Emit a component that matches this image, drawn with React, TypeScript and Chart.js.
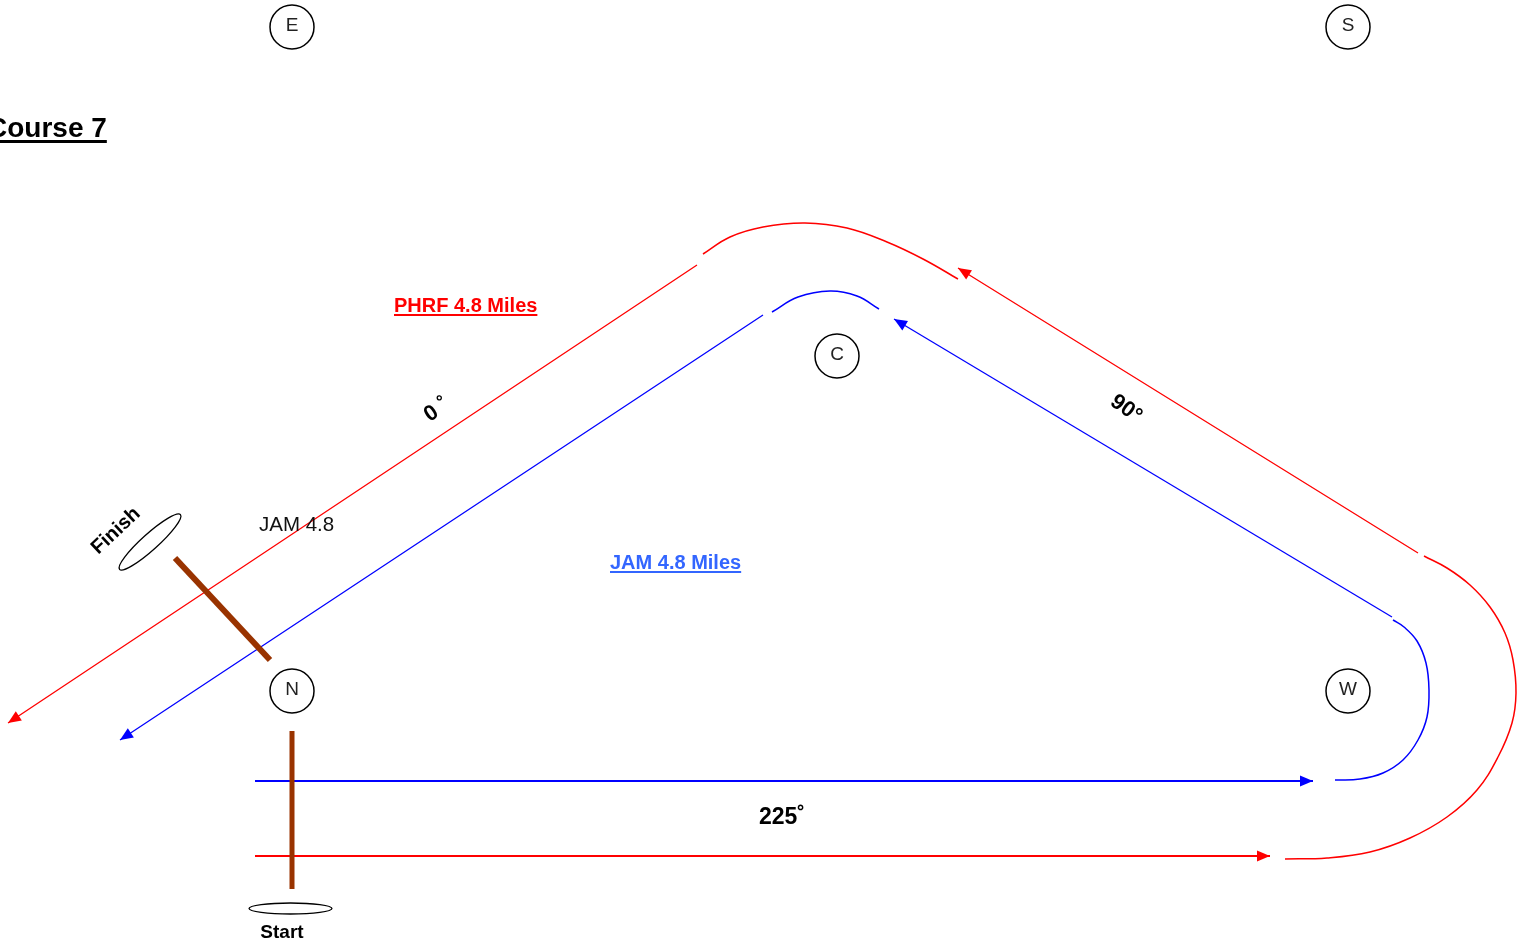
import React, { useEffect, useRef } from "react";
import { Chart, registerables } from "chart.js";

Chart.register(...registerables);

type P = { x: number; y: number };

// Course marks (buoys)
const markLabels = ["E", "S", "C", "N", "W"];
const markX = [292, 1348, 837, 292, 1348];
const markY = [27, 27, 356, 691, 691];

// PHRF course (red) path legs
const phrfStartLeg: P[] = [{ x: 255, y: 856 }, { x: 1270, y: 856 }];
const phrfWestRound: P[] = [
  { x: 1285, y: 859 }, { x: 1327, y: 858 }, { x: 1370, y: 852 }, { x: 1410, y: 838 },
  { x: 1447, y: 817 }, { x: 1477, y: 790 }, { x: 1498, y: 757 }, { x: 1512, y: 723 },
  { x: 1516, y: 693 }, { x: 1513, y: 660 }, { x: 1505, y: 633 }, { x: 1490, y: 607 },
  { x: 1470, y: 585 }, { x: 1447, y: 568 }, { x: 1424, y: 556 },
];
const phrfUpLeg: P[] = [{ x: 1418, y: 553 }, { x: 958, y: 268 }];
const phrfTopRound: P[] = [
  { x: 703, y: 254 }, { x: 730, y: 237 }, { x: 763, y: 227 }, { x: 805, y: 223 },
  { x: 847, y: 228 }, { x: 887, y: 242 }, { x: 923, y: 259 }, { x: 958, y: 279 },
];
const phrfFinishLeg: P[] = [{ x: 697, y: 265 }, { x: 8, y: 723 }];

// JAM course (blue) path legs
const jamStartLeg: P[] = [{ x: 255, y: 781 }, { x: 1313, y: 781 }];
const jamWestRound: P[] = [
  { x: 1335, y: 780 }, { x: 1360, y: 779 }, { x: 1383, y: 773 }, { x: 1403, y: 760 },
  { x: 1418, y: 740 }, { x: 1427, y: 717 }, { x: 1429, y: 690 }, { x: 1426, y: 663 },
  { x: 1417, y: 641 }, { x: 1404, y: 627 }, { x: 1393, y: 620 },
];
const jamUpLeg: P[] = [{ x: 1392, y: 617 }, { x: 894, y: 319 }];
const jamTopRound: P[] = [
  { x: 772, y: 312 }, { x: 798, y: 297 }, { x: 830, y: 291 }, { x: 857, y: 296 }, { x: 879, y: 309 },
];
const jamFinishLeg: P[] = [{ x: 763, y: 315 }, { x: 120, y: 740 }];

// Start / finish lines
const finishLine: P[] = [{ x: 175, y: 558 }, { x: 270, y: 660 }];
const startLine: P[] = [{ x: 292, y: 731 }, { x: 292, y: 889 }];

// Ellipse markers (start / finish pins): center, radii, tilt
const ellipseCx = [150, 290.5];
const ellipseCy = [542, 908.5];
const ellipseRx = [41, 41.5];
const ellipseRy = [8, 5.5];
const ellipseTilt = [-42, 0];

// Text labels
const labelText = ["Course 7", "PHRF 4.8 Miles", "JAM 4.8 Miles", "JAM 4.8", "0 ˚", "90°", "225˚", "Finish", "Start"];
const labelX = [-13, 394, 610, 259, 437, 1126, 782, 116, 282];
const labelY = [137, 312, 569, 531, 410, 409, 818, 531, 933];

const RED = "#ff0000";
const BLUE = "#0000ff";
const BROWN = "#993300";

export default function App() {
  const ref = useRef<HTMLCanvasElement | null>(null);

  useEffect(() => {
    document.body.style.margin = "0";
    document.body.style.overflow = "hidden";
    const canvas = ref.current;
    if (!canvas) return;

    const line = (data: P[], color: string, width: number, arrow = false, order = 5) => ({
      type: "scatter" as const,
      data,
      showLine: true,
      borderColor: color,
      backgroundColor: color,
      borderWidth: width,
      pointRadius: 0,
      tension: 0.4,
      fill: false,
      clip: false as any,
      arrow,
      order,
    });

    const arrowPlugin = {
      id: "arrowHeads",
      afterDatasetsDraw(chart: any) {
        const ctx = chart.ctx;
        chart.data.datasets.forEach((ds: any, i: number) => {
          if (!ds.arrow) return;
          const pts = chart.getDatasetMeta(i).data;
          const n = pts.length;
          const a = pts[n - 2], b = pts[n - 1];
          const ang = Math.atan2(b.y - a.y, b.x - a.x);
          const L = 13, W = 5.5;
          ctx.save();
          ctx.translate(b.x, b.y);
          ctx.rotate(ang);
          ctx.fillStyle = ds.borderColor;
          ctx.beginPath();
          ctx.moveTo(0, 0);
          ctx.lineTo(-L, -W);
          ctx.lineTo(-L, W);
          ctx.closePath();
          ctx.fill();
          ctx.restore();
        });
      },
    };

    const decorPlugin = {
      id: "decor",
      afterDraw(chart: any) {
        const ctx = chart.ctx;
        const xs = chart.scales.x, ys = chart.scales.y;
        const px = (v: number) => xs.getPixelForValue(v);
        const py = (v: number) => ys.getPixelForValue(v);
        const sx = Math.abs(px(1) - px(0));
        const sy = Math.abs(py(1) - py(0));

        // ellipses
        ctx.save();
        ctx.strokeStyle = "#000";
        ctx.lineWidth = 1.3;
        ellipseCx.forEach((cx, i) => {
          ctx.beginPath();
          ctx.ellipse(px(cx), py(ellipseCy[i]), ellipseRx[i] * sx, ellipseRy[i] * sy, (ellipseTilt[i] * Math.PI) / 180, 0, Math.PI * 2);
          ctx.stroke();
        });
        ctx.restore();

        // mark letters
        ctx.save();
        ctx.fillStyle = "#222";
        ctx.font = "19px Arial, 'Liberation Sans', sans-serif";
        ctx.textAlign = "center";
        ctx.textBaseline = "middle";
        markLabels.forEach((t, i) => ctx.fillText(t, px(markX[i]), py(markY[i]) - 1));
        ctx.restore();

        const FONT = "'Liberation Sans', Arial, sans-serif";
        const drawUnderlined = (t: string, x: number, y: number, font: string, color: string, uOff: number, uW: number) => {
          ctx.save();
          ctx.font = font;
          ctx.fillStyle = color;
          ctx.textAlign = "left";
          ctx.textBaseline = "alphabetic";
          ctx.fillText(t, x, y);
          const w = ctx.measureText(t).width;
          ctx.fillRect(x, y + uOff, w, uW);
          ctx.restore();
        };
        const drawRot = (t: string, x: number, y: number, font: string, deg: number) => {
          ctx.save();
          ctx.font = font;
          ctx.fillStyle = "#000";
          ctx.textAlign = "center";
          ctx.textBaseline = "middle";
          ctx.translate(x, y);
          ctx.rotate((deg * Math.PI) / 180);
          ctx.fillText(t, 0, 0);
          ctx.restore();
        };

        drawUnderlined(labelText[0], px(labelX[0]), py(labelY[0]), `bold 28px ${FONT}`, "#000", 3, 3);
        drawUnderlined(labelText[1], px(labelX[1]), py(labelY[1]), `bold 20px ${FONT}`, RED, 2, 2);
        drawUnderlined(labelText[2], px(labelX[2]), py(labelY[2]), `bold 20px ${FONT}`, "#3366ff", 2, 2);
        ctx.save();
        ctx.font = `20.5px ${FONT}`;
        ctx.fillStyle = "#111";
        ctx.textAlign = "left";
        ctx.textBaseline = "alphabetic";
        ctx.fillText(labelText[3], px(labelX[3]), py(labelY[3]));
        ctx.restore();
        drawRot(labelText[4], px(labelX[4]), py(labelY[4]), `bold 22px ${FONT}`, -34);
        drawRot(labelText[5], px(labelX[5]), py(labelY[5]), `bold 22px ${FONT}`, 36);
        drawRot(labelText[6], px(labelX[6]), py(labelY[6]), `bold 23px ${FONT}`, 0);
        drawRot(labelText[7], px(labelX[7]), py(labelY[7]), `bold 20px ${FONT}`, -43);
        drawRot(labelText[8], px(labelX[8]), py(labelY[8]), `bold 19px ${FONT}`, 0);
      },
    };

    const chart = new Chart(canvas, {
      type: "scatter",
      data: {
        datasets: [
          {
            type: "scatter",
            data: markX.map((x, i) => ({ x, y: markY[i] })),
            pointRadius: 22,
            pointHoverRadius: 22,
            pointBackgroundColor: "#ffffff",
            pointBorderColor: "#000000",
            pointBorderWidth: 1.5,
            showLine: false,
            clip: false as any,
            order: 0,
          } as any,
          line(finishLine, BROWN, 6, false, 1),
          line(startLine, BROWN, 5, false, 1),
          line(phrfStartLeg, RED, 2, true),
          line(phrfWestRound, RED, 1.5),
          line(phrfUpLeg, RED, 1.3, true),
          line(phrfTopRound, RED, 1.5),
          line(phrfFinishLeg, RED, 1.3, true),
          line(jamStartLeg, BLUE, 2, true),
          line(jamWestRound, BLUE, 1.5),
          line(jamUpLeg, BLUE, 1.3, true),
          line(jamTopRound, BLUE, 1.5),
          line(jamFinishLeg, BLUE, 1.3, true),
        ] as any,
      },
      options: {
        animation: false,
        responsive: true,
        maintainAspectRatio: false,
        layout: { padding: 0, autoPadding: false },
        events: [],
        plugins: { legend: { display: false }, tooltip: { enabled: false } },
        scales: {
          x: { type: "linear", min: 0, max: 1522, display: false },
          y: { type: "linear", min: 0, max: 947, reverse: true, display: false },
        },
      },
      plugins: [arrowPlugin, decorPlugin],
    });
    return () => chart.destroy();
  }, []);

  return (
    <div style={{ position: "absolute", left: 0, top: 0, width: 1522, height: 947, background: "#fff" }}>
      <canvas ref={ref} />
    </div>
  );
}
